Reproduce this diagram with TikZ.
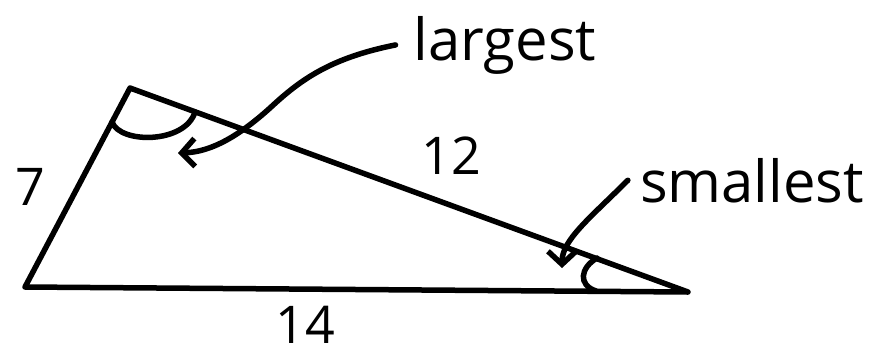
\documentclass[tikz,border=0pt]{standalone}
\usepackage{fontspec}
\setmainfont{Open Sans}
\usetikzlibrary{arrows.meta}
\tikzset{
  pen/.style={line width=5.5pt,line cap=round,line join=round},
  hand/.style={font=\fontsize{52}{60}\selectfont,inner sep=0pt,anchor=base},
  word/.style={hand,font=\fontsize{58}{66}\selectfont},
  barb/.style={pen,-{Straight Barb[length=13pt,width=28pt]}},
}
\begin{document}
\begin{tikzpicture}[x=1pt,y=-1pt]
  \useasboundingbox (0,0) rectangle (882,354);
  % triangle corners
  \coordinate (tp) at (130,88);
  \coordinate (bl) at (25,287);
  \coordinate (rv) at (688,292);
  \draw[pen] (bl) -- (tp) -- (rv) -- (bl);

  % angle marks at the top corner and the right corner
  \draw[pen] (112,122) .. controls (120,144) and (185,144) .. (195,112);
  \draw[pen] (597,258) .. controls (580,268) and (578,285) .. (596,291);

  % side lengths and words
  \node[hand] (s7) at (30,205) {7};
  \node[hand] (s12) at (451,174) {12};
  \node[hand] (s14) at (305,343) {14};
  \node[word] (lg) at (505,60) {largest};
  \node[word] (sm) at (752,202) {smallest};

  % pointers from the words to the angles
  \coordinate (lgtip) at (178,153);
  \coordinate (smtip) at (562,268);
  \draw[barb] ([xshift=-18pt]lg.west) .. controls (330,58) and (300,80) .. (270,108)
    .. controls (240,135) and (212,152) .. (lgtip);
  \draw[barb] ([xshift=-12pt]sm.west) .. controls (590,218) and (562,240) .. (smtip);
\end{tikzpicture}
\end{document}
